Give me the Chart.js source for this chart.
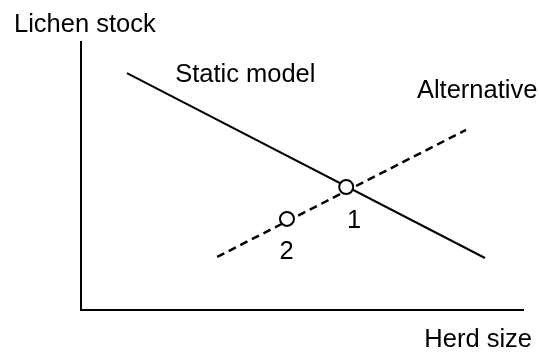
<!DOCTYPE html>
<html>
<head>
<meta charset="utf-8">
<script src="https://cdn.jsdelivr.net/npm/chart.js@4"></script>
<style>
    body { margin: 0; background: #fff; }
    #wrap { width: 539px; height: 352px; }
</style>
</head>
<body>
<div id="wrap"><canvas id="herd-chart"></canvas></div>
<script>
// Line end points and equilibrium points, in axis units (0-100)
const staticX = [10.4, 91.4];
const staticY = [88.4, 19.4];
const altX = [30.8, 87.1];
const altY = [19.8, 67.2];
const eqX = [60.0, 46.6];
const eqY = [45.9, 34.0];
const eqLabels = ['1', '2'];

const xTitle = 'Herd size';
const yTitle = 'Lichen stock';

function toPoints(xs, ys) {
    return xs.map((x, i) => ({ x: x, y: ys[i] }));
}

// text labels anchored in data units
const notes = [
    { text: 'Static model', x: 21.3, y: 85.1, align: 'left' },
    { text: 'Alternative', x: 76.0, y: 79.1, align: 'left' },
    { text: eqLabels[0], x: 61.8, y: 30.6, align: 'center' },
    { text: eqLabels[1], x: 46.5, y: 19.0, align: 'center' }
];

const textPlugin = {
    id: 'textPlugin',
    afterDraw(chart) {
        const ctx = chart.ctx;
        const xs = chart.scales.x, ys = chart.scales.y;
        const area = chart.chartArea;
        ctx.save();
        ctx.fillStyle = '#000';
        ctx.font = '25.5px "Liberation Sans", Arial, sans-serif';
        ctx.textBaseline = 'alphabetic';
        notes.forEach(n => {
            ctx.textAlign = n.align;
            ctx.fillText(n.text, xs.getPixelForValue(n.x), ys.getPixelForValue(n.y));
        });
        ctx.textAlign = 'left';
        ctx.fillText(yTitle, area.left - 67, area.top - 10);
        ctx.textAlign = 'right';
        ctx.fillText(xTitle, area.right + 9, area.bottom + 37);
        ctx.restore();
    }
};

const ctx = document.getElementById('herd-chart').getContext('2d');
new Chart(ctx, {
    type: 'scatter',
    data: {
        datasets: [
            {
                label: 'Equilibria',
                data: toPoints(eqX, eqY),
                showLine: false,
                pointRadius: 7,
                pointBackgroundColor: '#fff',
                pointBorderColor: '#000',
                pointBorderWidth: 2
            },
            {
                label: 'Static model',
                data: toPoints(staticX, staticY),
                showLine: true,
                borderColor: '#000',
                borderWidth: 2,
                pointRadius: 0
            },
            {
                label: 'Alternative',
                data: toPoints(altX, altY),
                showLine: true,
                borderColor: '#000',
                borderWidth: 2.5,
                borderDash: [8, 5],
                pointRadius: 0
            }
        ]
    },
    options: {
        responsive: true,
        maintainAspectRatio: false,
        animation: false,
        layout: { padding: { left: 81, top: 42, right: 16, bottom: 42 } },
        plugins: {
            legend: { display: false },
            tooltip: { enabled: false }
        },
        scales: {
            x: {
                type: 'linear',
                min: 0,
                max: 100,
                grid: { display: false },
                ticks: { display: false },
                border: { display: true, color: '#000', width: 2 },
                afterFit(scale) { scale.height = 0; }
            },
            y: {
                type: 'linear',
                min: 0,
                max: 100,
                grid: { display: false },
                ticks: { display: false },
                border: { display: true, color: '#000', width: 2 },
                afterFit(scale) { scale.width = 0; }
            }
        }
    },
    plugins: [textPlugin]
});
</script>
</body>
</html>
